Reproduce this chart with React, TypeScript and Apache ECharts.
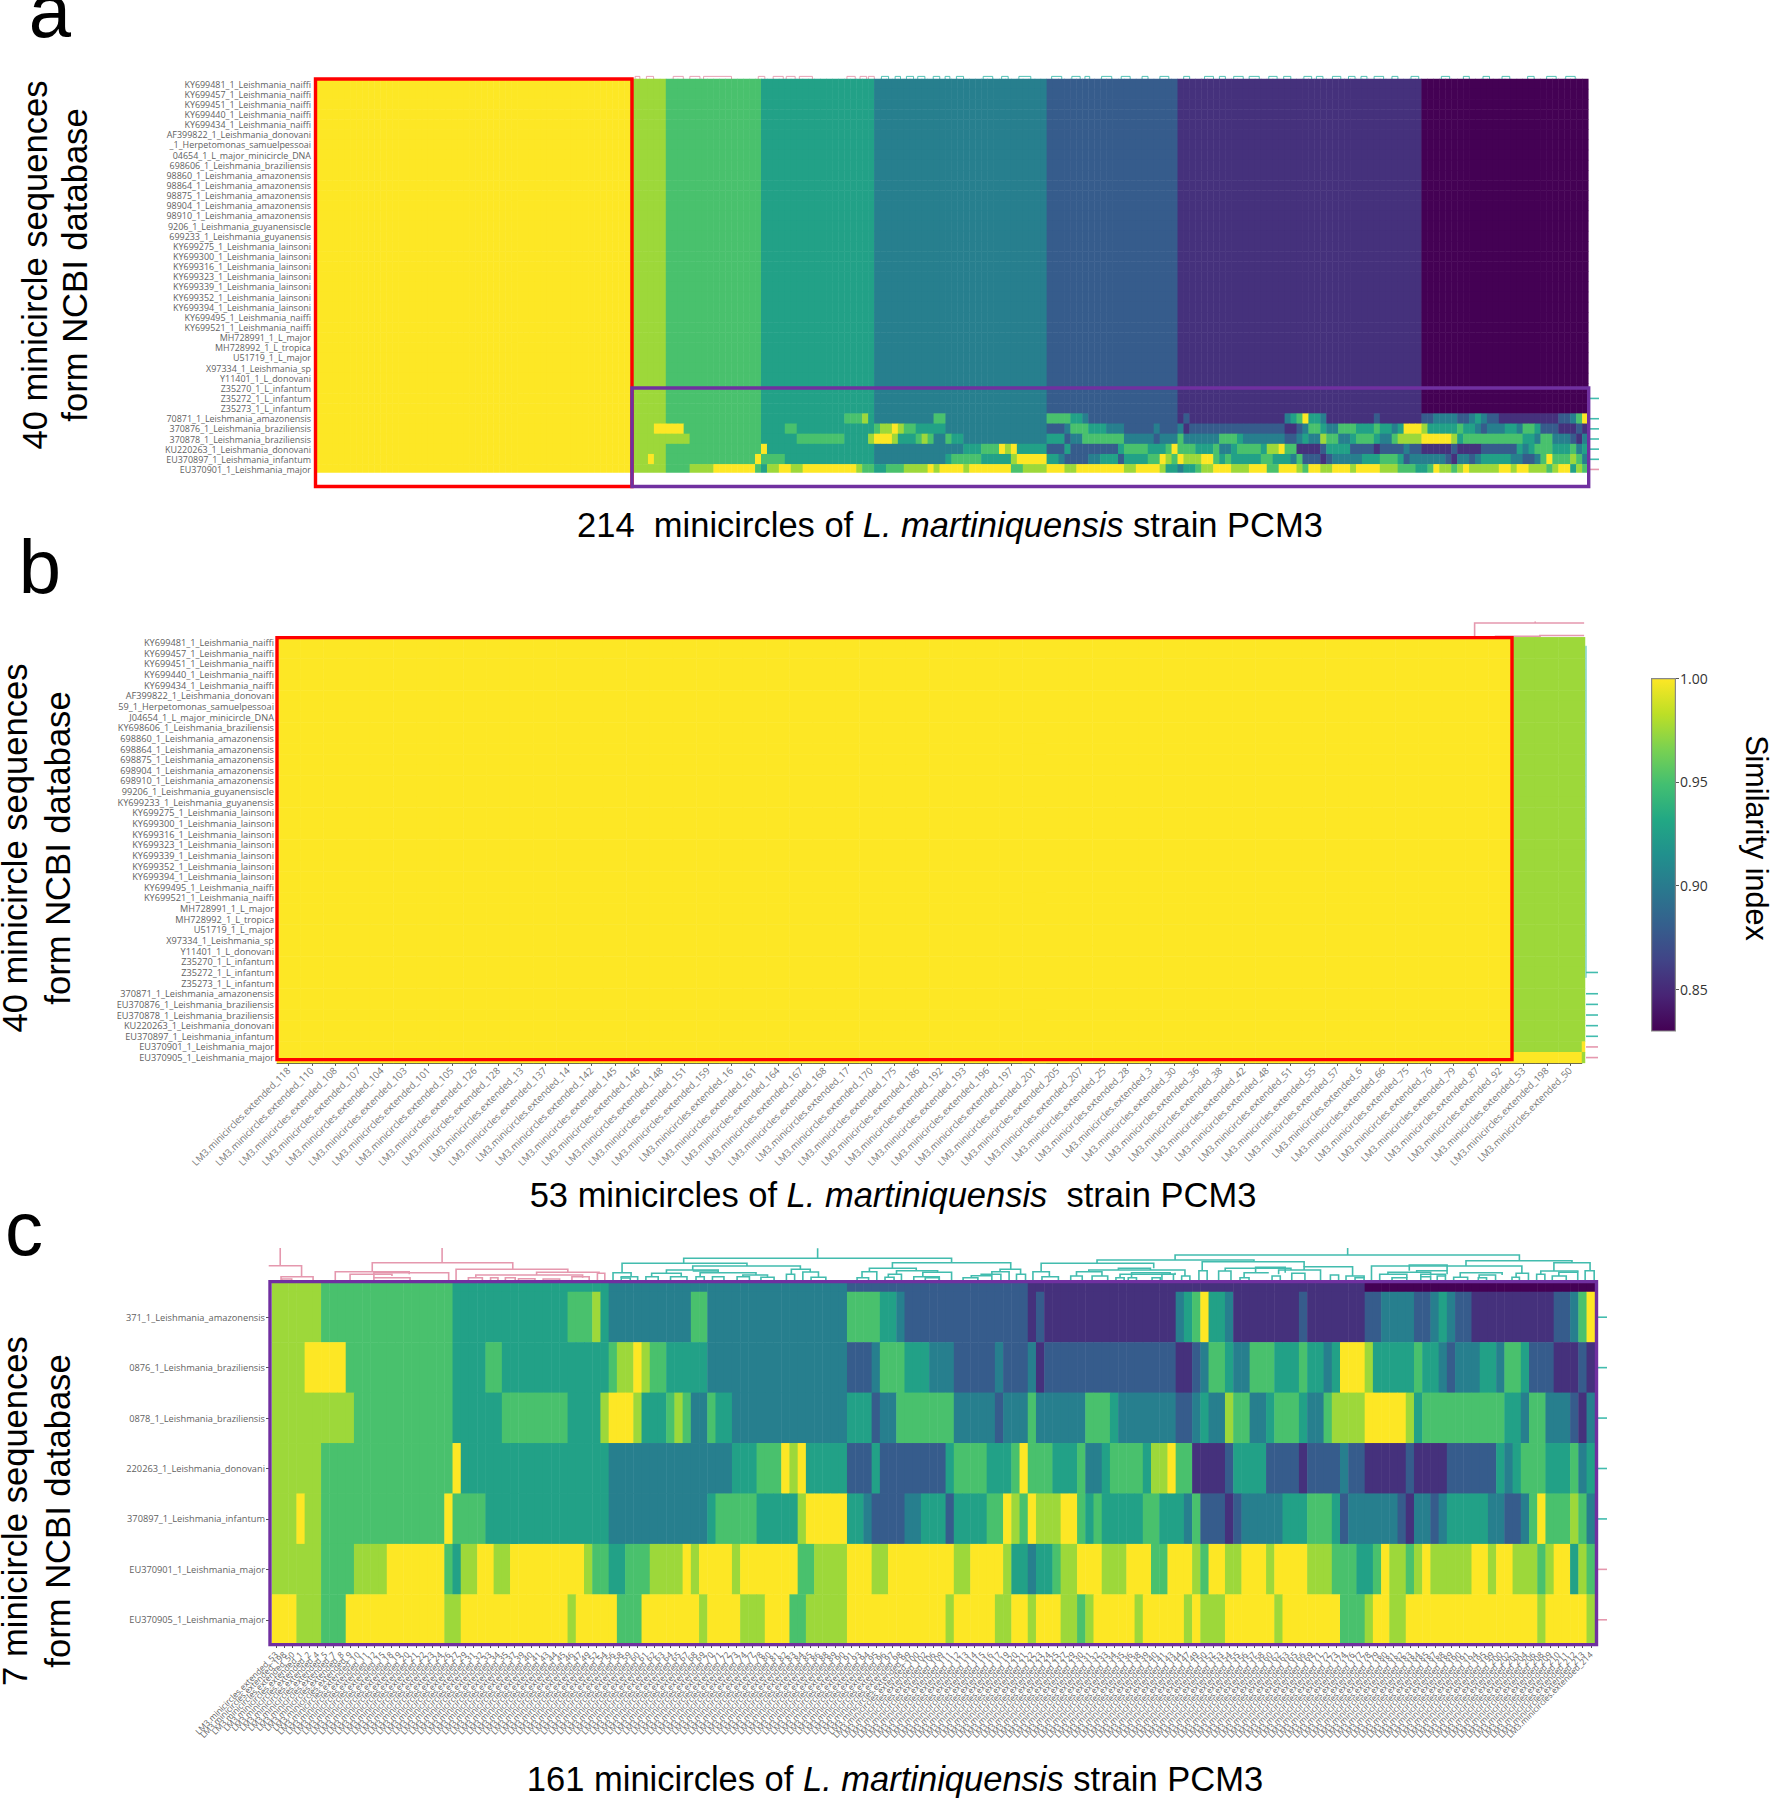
import React, { useEffect, useRef } from "react";
import * as echarts from "echarts";

// similarity levels
const Y = 1.0, L = 0.975, G = 0.951, T = 0.927, C = 0.903, B = 0.879, P = 0.854, D = 0.83;
const viridis = ["#440154", "#482475", "#414487", "#355f8d", "#2a788e", "#21908d", "#22a884", "#43bf71", "#7ad151", "#bddf26", "#fde725"];
const colorbarTicks = [0.85, 0.9, 0.95, 1.0];

// rows as (value, end column) runs; 161 columns of panel c
const rowBands = [L, 6, G, 22, T, 41, C, 70, B, 92, P, 133, D, 161];
const row871 = [L,6,G,22,T,36,G,39,L,40,T,41,C,51,G,53,C,70,G,74,T,76,C,77,B,92,P,93,B,94,P,110,C,111,T,112,G,113,Y,114,T,116,C,117,P,125,B,126,P,133,B,135,C,139,B,141,C,142,T,143,C,144,B,146,P,156,B,158,C,159,G,160,Y,161];
const row876 = [L,4,Y,9,G,22,T,26,G,28,T,41,G,42,L,44,Y,45,L,46,G,48,T,53,C,70,B,73,C,74,G,77,T,80,C,83,B,88,C,89,B,92,C,93,P,94,B,110,P,112,B,113,C,114,G,116,T,117,C,119,G,122,T,125,G,126,T,128,C,129,T,130,Y,133,L,134,T,139,G,140,T,142,C,143,B,144,C,147,T,149,C,150,G,152,T,153,B,156,P,159,B,160,P,161];
const row878 = [L,10,G,22,T,28,G,36,T,40,L,41,Y,44,L,45,T,48,G,49,L,50,G,51,C,53,G,54,T,56,C,70,T,73,B,74,C,76,G,83,C,88,B,89,C,92,G,93,C,99,G,102,T,103,C,110,B,112,C,113,T,114,C,116,L,117,G,119,C,121,T,122,G,125,T,126,C,128,G,129,L,133,Y,138,L,139,T,140,G,150,T,152,C,153,G,155,C,158,B,159,P,160,C,161];
const row263 = [L,6,G,22,Y,23,T,41,C,56,T,59,G,62,Y,63,L,64,Y,65,T,70,B,73,T,74,B,82,T,83,G,87,T,90,G,91,Y,92,G,95,T,98,G,99,C,101,T,102,G,106,T,107,L,109,Y,110,G,112,P,116,B,117,T,121,B,125,P,126,B,130,C,131,B,133,P,138,B,139,P,143,B,149,T,150,C,151,T,152,G,155,T,158,G,159,C,160,T,161];
const row897 = [L,3,Y,4,L,6,G,21,Y,22,G,26,T,41,C,53,T,54,G,59,T,64,L,65,Y,70,T,72,C,73,B,77,C,79,T,82,B,83,T,87,G,89,Y,90,L,91,G,92,Y,93,L,96,Y,98,G,99,T,100,G,101,T,106,G,108,T,111,C,112,G,113,B,116,P,117,B,118,C,123,T,126,G,129,T,130,B,131,C,137,B,138,P,139,C,141,B,142,C,143,T,148,C,150,B,152,C,153,G,154,Y,155,G,158,L,159,G,160,C,161];
const row901 = [L,6,G,10,L,14,Y,21,G,22,T,23,L,25,Y,27,L,29,Y,38,L,39,G,41,T,43,G,46,L,50,Y,51,L,52,Y,56,L,57,Y,64,G,66,L,70,Y,73,L,75,Y,83,L,85,Y,89,L,90,T,92,C,93,T,95,G,96,L,98,Y,101,L,104,Y,107,G,109,Y,112,L,113,G,114,Y,116,L,118,Y,121,L,122,Y,126,L,129,G,132,T,134,G,135,Y,136,L,138,G,139,L,140,Y,141,L,146,Y,148,L,149,Y,151,L,154,G,155,L,156,Y,158,T,159,L,160,G,161];
const row905 = [Y,3,L,6,G,9,Y,21,L,23,Y,36,L,37,Y,42,G,45,Y,52,L,53,Y,57,L,60,Y,63,G,65,L,70,Y,82,L,83,Y,88,L,90,Y,92,L,93,Y,96,L,98,G,99,L,100,Y,105,L,106,Y,111,L,112,Y,113,L,116,Y,122,L,123,Y,130,G,133,L,134,Y,136,L,138,Y,154,L,155,Y,160,L,161];

// panel b rows (56 columns)
const rowBTop = [Y, 53, L, 56];
const rowBLast = [Y, 56];
const stripB = [L, 38, Y, 39, L, 40];

const labelsA = ["KY699481_1_Leishmania_naiffi","KY699457_1_Leishmania_naiffi","KY699451_1_Leishmania_naiffi","KY699440_1_Leishmania_naiffi","KY699434_1_Leishmania_naiffi","AF399822_1_Leishmania_donovani","_1_Herpetomonas_samuelpessoai","04654_1_L_major_minicircle_DNA","698606_1_Leishmania_braziliensis","98860_1_Leishmania_amazonensis","98864_1_Leishmania_amazonensis","98875_1_Leishmania_amazonensis","98904_1_Leishmania_amazonensis","98910_1_Leishmania_amazonensis","9206_1_Leishmania_guyanensiscle","699233_1_Leishmania_guyanensis","KY699275_1_Leishmania_lainsoni","KY699300_1_Leishmania_lainsoni","KY699316_1_Leishmania_lainsoni","KY699323_1_Leishmania_lainsoni","KY699339_1_Leishmania_lainsoni","KY699352_1_Leishmania_lainsoni","KY699394_1_Leishmania_lainsoni","KY699495_1_Leishmania_naiffi","KY699521_1_Leishmania_naiffi","MH728991_1_L_major","MH728992_1_L_tropica","U51719_1_L_major","X97334_1_Leishmania_sp","Y11401_1_L_donovani","Z35270_1_L_infantum","Z35272_1_L_infantum","Z35273_1_L_infantum","70871_1_Leishmania_amazonensis","370876_1_Leishmania_braziliensis","370878_1_Leishmania_braziliensis","KU220263_1_Leishmania_donovani","EU370897_1_Leishmania_infantum","EU370901_1_Leishmania_major"];
const labelsB = ["KY699481_1_Leishmania_naiffi","KY699457_1_Leishmania_naiffi","KY699451_1_Leishmania_naiffi","KY699440_1_Leishmania_naiffi","KY699434_1_Leishmania_naiffi","AF399822_1_Leishmania_donovani","59_1_Herpetomonas_samuelpessoai","J04654_1_L_major_minicircle_DNA","KY698606_1_Leishmania_braziliensis","698860_1_Leishmania_amazonensis","698864_1_Leishmania_amazonensis","698875_1_Leishmania_amazonensis","698904_1_Leishmania_amazonensis","698910_1_Leishmania_amazonensis","99206_1_Leishmania_guyanensiscle","KY699233_1_Leishmania_guyanensis","KY699275_1_Leishmania_lainsoni","KY699300_1_Leishmania_lainsoni","KY699316_1_Leishmania_lainsoni","KY699323_1_Leishmania_lainsoni","KY699339_1_Leishmania_lainsoni","KY699352_1_Leishmania_lainsoni","KY699394_1_Leishmania_lainsoni","KY699495_1_Leishmania_naiffi","KY699521_1_Leishmania_naiffi","MH728991_1_L_major","MH728992_1_L_tropica","U51719_1_L_major","X97334_1_Leishmania_sp","Y11401_1_L_donovani","Z35270_1_L_infantum","Z35272_1_L_infantum","Z35273_1_L_infantum","370871_1_Leishmania_amazonensis","EU370876_1_Leishmania_braziliensis","EU370878_1_Leishmania_braziliensis","KU220263_1_Leishmania_donovani","EU370897_1_Leishmania_infantum","EU370901_1_Leishmania_major","EU370905_1_Leishmania_major"];
const labelsC = ["371_1_Leishmania_amazonensis","0876_1_Leishmania_braziliensis","0878_1_Leishmania_braziliensis","220263_1_Leishmania_donovani","370897_1_Leishmania_infantum","EU370901_1_Leishmania_major","EU370905_1_Leishmania_major"];

// minicircle numbers on the x axes
const idsB = [118,110,108,107,104,103,101,105,126,128,13,137,14,142,145,146,148,151,159,16,161,164,167,168,17,170,175,186,192,193,196,197,201,205,207,25,28,3,30,36,38,42,48,51,55,57,6,66,75,76,79,87,92,53,198,50];
const idsC = [53,198,50,1,2,4,5,7,8,9,10,11,12,15,18,19,20,21,22,23,24,26,27,29,31,32,33,34,35,37,39,40,41,43,44,45,46,47,49,52,54,56,58,59,60,61,62,63,64,65,67,68,69,70,71,72,73,74,77,78,80,81,82,83,84,85,86,88,89,90,91,93,94,95,96,97,98,99,100,102,106,109,111,112,113,114,115,116,117,119,120,121,122,123,124,125,127,129,130,131,132,133,134,135,136,138,139,140,141,143,144,147,149,150,152,153,154,155,156,157,158,160,162,163,165,166,169,171,172,173,174,176,177,178,179,180,181,182,183,184,185,187,188,189,190,191,194,195,199,200,202,203,204,206,208,209,210,211,212,213,214];

// dendrogram links: left column, right column, top height, left leg end, right leg end
const pinkC = [[1,1,32,14.3,14.3],[-0.4,3.6,14.3,14.3,3.3],[1.1,5,3.3,0,0],[1.2,2.4,1,0,0],[20.7,20.7,32,17.3,17.3],[12.2,29.3,17.3,8.3,10.7],[7.7,16.7,8.3,0,5.7],[9.5,14.6,5.7,0,4],[12.4,21.5,7.3,2.3,0],[12.4,16.8,2.3,0,0],[22.4,36,10.7,0,7.7],[32.2,39.8,7.7,5,6.7],[39.6,40.5,6.7,0,0],[24.8,37.8,5,2.3,2.3],[23.9,25.6,2.3,0,0],[26.6,27.5,2.3,0,0],[28.4,29.6,2.3,0,0],[36.5,38.6,3.3,0,0],[30,32,1.2,0,0],[33,35,1,0,0]];
const tealC = [[66.4,66.4,31.7,21.7,21.7],[50.1,82.7,21.7,16.7,17.3],[42.6,57.8,16.7,7.3,14],[41.5,43.7,7.3,0,3.3],[42.5,44.5,3.3,2,0],[42.5,43.6,2,0,0],[51.2,64.3,14,10,10.7],[48,54.3,10,6.7,9.3],[51.2,54.3,9,9,7.3],[46.2,49.8,6.7,3.3,3.3],[45.5,47,3.3,0,0],[48.5,50.5,3.3,0,0],[52.1,58.9,7.3,3.3,5],[51.6,52.6,3.3,0,0],[53.6,55,3.3,0,0],[57.3,60.3,5,3.3,2.7],[56.6,58.1,3.3,0,0],[59.5,61.1,2.7,0,0],[63.2,65.5,10.7,5.7,8],[62.6,63.6,5.7,0,0],[64.6,66.5,8,0,2.7],[65.6,67.4,2.7,0,0],[75.5,89.9,17.3,11.7,10.7],[72.7,78.4,11.7,8.3,9.3],[71.8,73.6,8.3,2.3,0],[71.2,72.6,2.3,0,0],[76,81,9.3,5.7,7.7],[75,76.6,5.7,2.7,0],[74.6,75.7,2.7,0,0],[79.2,82.7,7.7,3.3,0],[78.1,81.2,3.3,0,0],[79.5,81.2,2.3,0,0],[88.6,91.1,10.7,8.3,5.7],[90.6,91.7,5.7,0,0],[87.6,89.7,8.3,5.7,0],[86.3,88.7,5.7,4.3,0],[85.1,87.6,4.3,2.3,0],[84.1,85.9,2.3,0,0],[109.9,151.8,25,20,19.3],[130.9,130.9,32,25,25],[100.4,119.5,20,16.7,18.3],[93.6,107.3,16.7,8.3,11.7],[92.6,94.6,8.3,0,3.3],[93.7,95.7,3.3,0,0],[99.4,111.1,10,8.3,4],[97.9,101,8.3,4,4],[97.2,98.6,4,0,0],[99.8,101.7,4,0,0],[110.7,111.7,4,0,0],[103,106.9,11.7,10,10],[103.2,109.9,5.7,2.3,7.3],[104.6,109.3,7.3,2.3,5.7],[102.7,103.7,2.3,0,0],[104.2,105.2,2.3,0,0],[107.1,108.1,2.3,0,0],[108.3,109.7,5.7,0,0],[113.2,125.6,18.3,9.3,13.3],[112.8,113.8,9.3,0,0],[116,124,11.7,9,10],[115.2,116.7,9,0,0],[119.7,123.3,12.7,7.3,7.3],[118.3,121.3,7.3,2.3,7.3],[117.8,118.9,2.3,0,0],[121.7,122.7,4,0,0],[122.5,127.6,10,5.7,0],[124.1,125.7,6.7,0,0],[128.8,129.8,5,0,0],[125.6,131.5,13.3,10,4],[130.7,132.9,4,0,2.3],[131.8,132.9,2.3,0,0],[145.3,158.2,19.3,14,17.3],[133.8,152.1,14,0,6.7],[138.4,143,15,9.3,9.3],[139.3,143,9.3,7.7,5.7],[135.8,141,7.7,5.7,4.3],[134.8,138.1,5.7,0,2.3],[136.3,138.1,2.3,0,0],[139.8,142.8,5.7,3.3,4],[139.8,141,3.3,0,0],[141.8,142.8,4,0,0],[144.6,149.7,7.3,2.7,5],[143.8,145.5,2.7,0,0],[146.9,148.9,5,2.3,0],[146.8,147.8,2.3,0,0],[151.4,152.9,6.7,2.7,0],[150.9,151.8,2.7,0,0],[156,160.4,17.3,9,9.3],[159.8,160.9,9.3,0,0],[154.4,158.9,9,5.7,7.7],[153.9,154.9,5.7,0,0],[156.6,158.9,7.7,4,0],[155.8,157.5,4,0,0]];
const pinkA = [[53.8,54.6],[55.7,56.9],[60.2,61.9],[63,64.7],[65.3,70],[74.5,75.6],[77,78.7],[79.2,80.7],[81.4,83.6],[89.4,90.8],[91.6,92.7],[93,94]];
const tealA = [[95.2,96.4],[97.5,98.4],[99.4,100.6],[101.3,102.5],[103.9,105],[105.9,106.7],[107.8,109],[112.3,113.9],[115.4,116.5],[118.3,120.3],[123.8,125.5],[127.2,128.6],[129.4,130.2],[132.2,133.9],[135.5,137],[139,140],[142,143.5],[146,147],[149.5,151],[152,153],[154.4,156],[157,158.7],[160.3,161.7],[162.8,164],[166.2,167.5],[168.3,169.4],[171,172.4],[173.7,174.8],[175.8,176.8],[178,179.6],[181,182],[184.2,185.5],[189.3,190.7],[193,194],[196.3,197.4],[199.5,200.8],[203.8,204.9],[207,208.6],[210.2,211.8]];
const pinkB = [[51.4,56.1,14,0,14],[54,54,15.5,14,14],[54.2,56.1,1.5,0,1.5],[52.3,54.2,0.6,0,0]];
const tealSideA = [31, 33, 34, 35, 36, 37];
const pinkSideA = [38];
const tealSideB = [31, 33, 34, 35, 36, 37];
const pinkSideB = [38, 39];
const tealSideC = [0, 1, 2, 3, 4];
const pinkSideC = [5, 6];

const PINK = "#e598ae";
const TEAL = "#42bcae";
const GREY = "#5f5f5f";
const PURPLE = "#7030a0";
const RED = "#ff0000";
const ARIAL = "Liberation Sans";
const SMALL = "Open Sans";

const expand = (runs: number[]) => {
  const out: number[] = [];
  for (let i = 0; i < runs.length; i += 2) while (out.length < runs[i + 1]) out.push(runs[i]);
  return out;
};
const heat = (rows: number[][]) => rows.flatMap((r, y) => r.map((v, x) => [x, y, v]));
const yellow53 = (runs: number[]) => [Y, 53, ...runs.flatMap((v, i) => (i % 2 ? [v + 53] : [v]))];

const rowsA = [
  ...Array.from({ length: 33 }, () => expand(yellow53(rowBands))),
  ...[row871, row876, row878, row263, row897, row901].map((r) => expand(yellow53(r))),
];
const rowsB = [...Array.from({ length: 39 }, () => expand(rowBTop)), expand(rowBLast)];
const rowsC = [row871, row876, row878, row263, row897, row901, row905].map(expand);

const extended = (n: number) => `LM3.minicircles.extended_${n}`;
const idsYellow = idsB.slice(0, 53);
const xA = [...idsYellow, ...idsC].map(extended);
const xB = idsB.map(extended);
const xC = idsC.map(extended);

function linkSeries(xAxisIndex: number, yAxisIndex: number, data: number[][], color: string, lineWidth = 1.6) {
  return {
    type: "custom", xAxisIndex, yAxisIndex, silent: true, data, clip: false, z: 1,
    encode: { x: [0, 1], y: [2, 3, 4] },
    renderItem: (_: any, api: any) => {
      const [a, b, top, hl, hr] = [0, 1, 2, 3, 4].map((i) => api.value(i));
      return {
        type: "polyline",
        shape: { points: [api.coord([a, hl]), api.coord([a, top]), api.coord([b, top]), api.coord([b, hr])] },
        style: { stroke: color, lineWidth, fill: null },
      };
    },
  };
}
function sideSeries(xAxisIndex: number, yAxisIndex: number, rows: number[], color: string) {
  return {
    type: "custom", xAxisIndex, yAxisIndex, silent: true, clip: false, z: 1,
    data: rows.map((r) => [0, 1, r]),
    encode: { x: [0, 1], y: 2 },
    renderItem: (_: any, api: any) => {
      const a = api.coord([api.value(0), api.value(2) + 0.5]);
      const b = api.coord([api.value(1), api.value(2) + 0.5]);
      return { type: "line", shape: { x1: a[0], y1: a[1], x2: b[0], y2: b[1] }, style: { stroke: color, lineWidth: 1.6 } };
    },
  };
}

function buildOption() {
  const grids: any[] = [];
  const xAxes: any[] = [];
  const yAxes: any[] = [];
  const series: any[] = [];
  const gridBox = (left: number, top: number, width: number, height: number) => {
    grids.push({ left, top, width, height, containLabel: false, outerBoundsMode: "none", show: false });
    return grids.length - 1;
  };
  const catAxes = (g: number, xs: any[], ys: any[], xOpt: any = {}, yOpt: any = {}) => {
    xAxes.push({ type: "category", gridIndex: g, data: xs, axisLabel: { show: false }, axisTick: { show: false }, axisLine: { show: false }, splitLine: { show: false }, ...xOpt });
    yAxes.push({ type: "category", gridIndex: g, data: ys, inverse: true, axisLabel: { show: false }, axisTick: { show: false }, axisLine: { show: false }, splitLine: { show: false }, ...yOpt });
    return xAxes.length - 1;
  };
  const valAxes = (g: number, xMin: number, xMax: number, yMin: number, yMax: number, inverse = false) => {
    xAxes.push({ type: "value", gridIndex: g, show: false, min: xMin, max: xMax });
    yAxes.push({ type: "value", gridIndex: g, show: false, min: yMin, max: yMax, inverse });
    return xAxes.length - 1;
  };
  const heatIdx: number[] = [];
  const addHeat = (idx: number, data: number[][]) => {
    heatIdx.push(series.length);
    series.push({ type: "heatmap", xAxisIndex: idx, yAxisIndex: idx, data, silent: true, progressive: 0, emphasis: { disabled: true }, itemStyle: { borderWidth: 0 }, z: 2 });
  };
  const yLabel = (size: number, margin: number) => ({ axisLabel: { show: true, interval: 0, fontSize: size, fontFamily: SMALL, color: GREY, margin } });
  const xLabel = (size: number, margin: number, color: string) => ({
    axisLabel: { show: true, interval: 0, rotate: 45, fontSize: size, fontFamily: SMALL, color, margin, hideOverlap: false },
    axisTick: { show: true, alignWithLabel: true, length: 3, lineStyle: { color: "#555555" } },
    axisLine: { show: true, lineStyle: { color: "#555555", width: 1 } },
  });

  // panel a
  const a = catAxes(gridBox(315, 79, 1273.3, 395.5), xA, labelsA, {}, yLabel(8.95, 4));
  addHeat(a, heat(rowsA));
  const aD = valAxes(gridBox(315, 69, 1273.3, 10), 0, 214, 0, 10);
  series.push(linkSeries(aD, aD, pinkA.map(([p, q]) => [p, q, 2.6, 0, 0]), PINK, 0.9));
  series.push(linkSeries(aD, aD, tealA.map(([p, q]) => [p, q, 2.6, 0, 0]), TEAL, 0.9));
  const aS = valAxes(gridBox(1589, 79, 10, 395.5), 0, 1, 0, 39, true);
  series.push(sideSeries(aS, aS, tealSideA, TEAL), sideSeries(aS, aS, pinkSideA, PINK));

  // panel b
  const b = catAxes(gridBox(277, 637.3, 1304.8, 425.6), xB, labelsB, xLabel(9.6, 6, "#777777"), yLabel(9.2, 3));
  addHeat(b, heat(rowsB));
  const bStrip = catAxes(gridBox(1582, 637.3, 3, 425.6), ["partial"], labelsB);
  addHeat(bStrip, heat(expand(stripB).map((v) => [v])));
  const bD = valAxes(gridBox(277, 617, 1304.8, 20), 0, 56, 0, 20);
  series.push(linkSeries(bD, bD, pinkB, PINK));
  const bS = valAxes(gridBox(1586, 637.3, 12, 425.6), 0, 1, 0, 40, true);
  series.push(sideSeries(bS, bS, tealSideB, TEAL), sideSeries(bS, bS, pinkSideB, PINK));
  series.push({ type: "line", xAxisIndex: bS, yAxisIndex: bS, data: [[0, 0.8], [0, 32]], symbol: "none", silent: true, clip: false, lineStyle: { color: TEAL, width: 1 } });

  // panel c
  const cTop = catAxes(gridBox(272, 1283, 1323, 9), xC, ["Z35273_1_L_infantum"]);
  addHeat(cTop, heat([expand(rowBands)]));
  const c = catAxes(gridBox(272, 1292, 1323, 353), xC, labelsC, xLabel(8.4, 8, "#5f5f5f"), {
    ...yLabel(9.25, 4),
    axisTick: { show: true, length: 3, alignWithLabel: true, lineStyle: { color: "#555555" } },
    axisLine: { show: false },
    offset: 3,
  });
  addHeat(c, heat(rowsC));
  const cD = valAxes(gridBox(272, 1235, 1323, 45), 0, 161, 0, 45);
  series.push(linkSeries(cD, cD, pinkC, PINK), linkSeries(cD, cD, tealC, TEAL));
  const cS = valAxes(gridBox(1598, 1292, 9, 353), 0, 1, 0, 7, true);
  series.push(sideSeries(cS, cS, tealSideC, TEAL), sideSeries(cS, cS, pinkSideC, PINK));

  // colour bar
  const barGrid = gridBox(1651, 678, 25, 353);
  xAxes.push({ type: "category", gridIndex: barGrid, data: ["Similarity index"], axisLabel: { show: false }, axisTick: { show: false }, axisLine: { show: false } });
  yAxes.push({
    type: "value", gridIndex: barGrid, position: "right", min: D, max: Y, splitLine: { show: false }, axisLine: { show: false },
    axisTick: { show: true, length: 3, customValues: colorbarTicks, lineStyle: { color: "#555555" } },
    axisLabel: { show: true, customValues: colorbarTicks, formatter: (v: number) => v.toFixed(2), fontSize: 14, fontFamily: SMALL, color: "#333333", margin: 4 },
  });
  const barIdx = xAxes.length - 1;
  series.push({
    type: "bar", xAxisIndex: barIdx, yAxisIndex: barIdx, data: [Y], barWidth: "100%", silent: true,
    itemStyle: {
      borderColor: "#888888", borderWidth: 1.2,
      color: { type: "linear", x: 0, y: 1, x2: 0, y2: 0, colorStops: viridis.map((color, i) => ({ offset: i / (viridis.length - 1), color })) },
    },
  });

  const rect = (x: number, y: number, w: number, h: number, stroke: string, z: number) => ({
    type: "rect", silent: true, z, shape: { x, y, width: w, height: h }, style: { fill: "none", stroke, lineWidth: 3.4 },
  });
  const big = (text: string, x: number, y: number, size: number, rotation = 0) => ({
    type: "text", silent: true, x, y, rotation, z: 50,
    style: { text, fontSize: size, fontFamily: ARIAL, fill: "#000000", align: "center", verticalAlign: "middle" },
  });
  const caption = (before: string, after: string, x: number, y: number) => ({
    type: "text", silent: true, x, y, z: 50,
    style: {
      text: `{n|${before}}{i|L. martiniquensis}{n|${after}}`,
      align: "center", verticalAlign: "middle",
      rich: {
        n: { fontSize: 34.5, fontFamily: ARIAL, fill: "#000000" },
        i: { fontSize: 34.5, fontFamily: ARIAL, fill: "#000000", fontStyle: "italic" },
      },
    },
  });
  const up = Math.PI / 2;
  const graphic = [
    // panel a's last row is cut off by the plot's lower edge
    { type: "rect", silent: true, z: 10, shape: { x: 315, y: 472.7, width: 1275, height: 6 }, style: { fill: "#ffffff" } },
    rect(315.5, 79, 316.5, 407.5, RED, 20),
    rect(632, 388, 956.7, 98.5, PURPLE, 21),
    rect(277, 637.6, 1235, 422, RED, 20),
    rect(270, 1281.6, 1326.5, 363, PURPLE, 21),
    big("a", 50, 10, 76),
    big("b", 40, 566, 76),
    big("c", 24, 1228, 76),
    big("40 minicircle sequences", 35, 265, 34.6, up),
    big("form NCBI database", 75, 265, 34.6, up),
    big("40 minicircle sequences", 15, 848, 34.6, up),
    big("form NCBI database", 58, 848, 34.6, up),
    big("7 minicircle sequences", 15, 1511, 34.6, up),
    big("form NCBI database", 58, 1511, 34.6, up),
    big("Similarity index", 1757, 838, 30.6, -up),
    caption("214  minicircles of ", " strain PCM3", 950, 525),
    caption("53 minicircles of ", "  strain PCM3", 893, 1195),
    caption("161 minicircles of ", " strain PCM3", 895, 1779),
  ];

  return {
    animation: false,
    backgroundColor: "#ffffff",
    grid: grids,
    xAxis: xAxes,
    yAxis: yAxes,
    visualMap: { show: false, type: "continuous", min: D, max: Y, seriesIndex: heatIdx, calculable: false, inRange: { color: viridis } },
    series,
    graphic,
  };
}

export default function App() {
  const ref = useRef<HTMLDivElement>(null);
  useEffect(() => {
    document.body.style.margin = "0";
    const chart = echarts.init(ref.current!, undefined, { renderer: "svg" });
    chart.setOption(buildOption() as any);
    return () => chart.dispose();
  }, []);
  return <div ref={ref} style={{ width: 1770, height: 1798 }} />;
}
